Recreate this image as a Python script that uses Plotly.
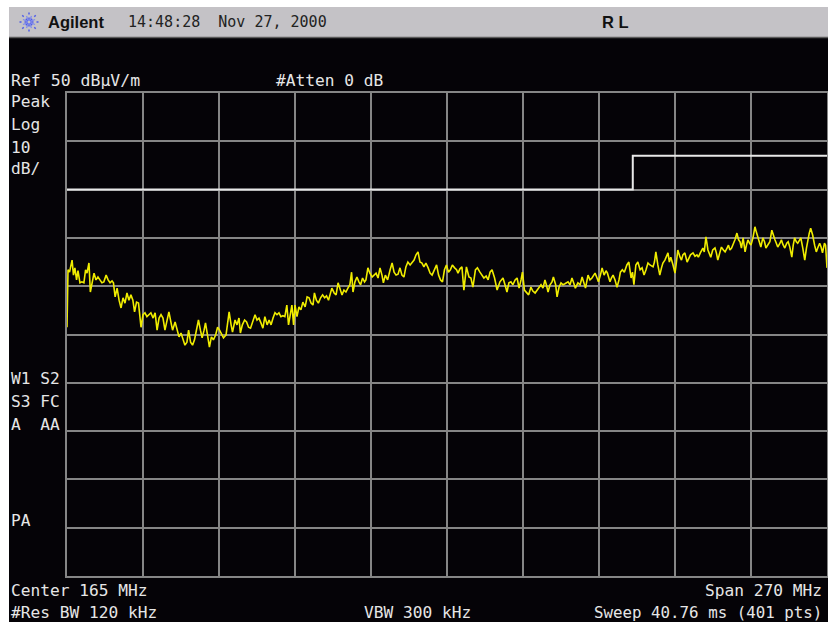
import plotly.graph_objects as go
import math

W, H = 828, 624

# ---- data ----
freq_mhz = [30.0, 30.36, 30.9, 31.2, 31.8, 32.3, 32.8, 33.4, 33.9, 34.6, 35.3, 36.0, 36.6, 37.1, 37.8, 38.3, 38.9, 39.6, 40.3, 41.0,
            41.7, 42.4, 43.1, 43.9, 44.6, 45.3, 46.0, 46.5, 47.1, 47.8, 48.5, 49.2, 49.9, 50.6, 51.3, 52.0, 52.7, 53.4, 54.0, 54.7,
            55.4, 56.3, 57.0, 57.7, 58.4, 59.1, 59.8, 60.6, 61.3, 62.0, 62.7, 63.4, 64.1, 64.8, 65.5, 66.2, 66.9, 67.5, 68.4, 69.1,
            69.8, 70.5, 71.2, 71.9, 72.6, 73.2, 73.9, 74.6, 75.3, 76.0, 76.7, 77.4, 78.0, 78.7, 79.2, 79.9, 80.6, 81.3, 82.0, 82.8,
            83.5, 84.2, 84.9, 85.6, 86.5, 87.6, 88.3, 88.8, 89.7, 90.4, 91.1, 91.6, 92.3, 93.1, 93.8, 94.5, 95.2, 95.9, 96.8, 97.5,
            98.2, 98.9, 99.6, 100.3, 101.1, 101.8, 102.5, 103.2, 103.9, 104.6, 105.3, 106.0, 106.7, 107.4, 108.1, 108.7, 109.4, 109.9, 110.5, 111.0,
            111.7, 112.4, 113.1, 113.8, 114.6, 115.3, 116.0, 116.7, 117.4, 117.9, 118.6, 119.3, 120.1, 120.8, 121.5, 122.2, 122.9, 123.6, 124.1, 124.9,
            125.6, 126.3, 127.0, 127.7, 128.4, 129.1, 129.8, 130.5, 131.1, 131.6, 132.3, 133.0, 133.7, 134.3, 135.0, 135.7, 136.2, 136.9, 137.6, 138.4,
            139.1, 139.8, 140.5, 141.2, 141.9, 142.4, 143.1, 143.9, 144.8, 145.5, 146.2, 146.9, 147.6, 148.3, 149.0, 149.7, 150.4, 151.1, 151.9, 152.6,
            153.3, 154.0, 154.7, 155.4, 156.1, 156.8, 157.5, 158.3, 159.0, 159.7, 160.4, 161.3, 162.0, 162.7, 163.4, 164.1, 164.8, 165.5, 166.2, 166.9,
            167.7, 168.4, 168.9, 169.6, 170.3, 171.0, 171.9, 172.8, 173.5, 174.2, 175.1, 175.8, 176.7, 177.4, 178.1, 178.9, 179.6, 180.3, 181.0, 181.9,
            182.8, 183.8, 184.9, 185.6, 186.3, 187.0, 187.7, 188.4, 189.2, 189.9, 190.6, 191.3, 191.8, 192.5, 193.3, 194.0, 194.8, 195.5, 196.3, 197.0,
            197.7, 198.4, 199.1, 199.8, 200.3, 200.9, 201.6, 202.3, 202.8, 203.6, 204.1, 204.8, 205.5, 206.2, 206.9, 208.0, 208.7, 209.4, 210.1, 210.6,
            211.5, 212.3, 213.0, 213.7, 214.2, 215.1, 215.8, 216.5, 217.6, 218.3, 218.8, 219.5, 220.1, 220.8, 221.5, 222.0, 222.9, 223.4, 224.0, 224.7,
            225.4, 226.1, 226.6, 227.3, 228.0, 228.9, 229.6, 230.4, 230.9, 231.4, 232.1, 232.8, 233.6, 234.3, 235.0, 235.7, 236.4, 237.1, 238.2, 238.7,
            239.2, 239.9, 240.6, 241.2, 241.7, 242.4, 243.5, 244.0, 244.5, 245.3, 246.0, 246.5, 247.0, 247.8, 248.3, 248.8, 249.5, 250.3, 250.8, 251.5,
            252.4, 253.1, 253.8, 254.3, 255.0, 255.9, 256.4, 257.0, 257.7, 258.2, 258.7, 259.4, 260.2, 260.7, 261.2, 262.0, 262.5, 263.2, 263.8, 264.5,
            265.0, 265.5, 266.1, 266.8, 267.3, 268.0, 268.6, 269.1, 269.6, 270.2, 270.9, 271.4, 271.9, 272.5, 273.0, 273.7, 274.4, 274.9, 275.5, 276.0,
            276.5, 277.2, 277.8, 278.3, 279.0, 279.7, 280.4, 280.9, 281.5, 282.0, 282.5, 283.3, 283.8, 284.3, 285.0, 285.7, 286.2, 286.8, 287.5, 288.0,
            288.5, 289.1, 289.6, 290.3, 290.7, 291.4, 292.1, 292.7, 293.2, 293.7, 294.2, 294.9, 295.6, 296.2, 296.7, 297.4, 297.9, 298.4, 299.1, 299.5,
            300.0]

level_dbuv_m = [1.5, 13.4, 12.9, 13.8, 15.4, 12.3, 13.8, 11.3, 13.2, 10.7, 10.9, 10.7, 13.4, 12.7, 14.8, 8.8, 10.3, 12.7, 11.3, 11.9,
                11.3, 10.7, 10.9, 12.3, 11.3, 10.7, 11.1, 10.7, 7.8, 9.6, 7.1, 5.5, 7.6, 6.5, 8.6, 7.1, 8.2, 7.1, 4.7, 6.7,
                6.5, 1.5, 4.1, 4.5, 3.7, 4.1, 4.5, 3.4, 4.5, 0.9, 3.4, 4.1, 3.4, 0.9, 3.0, 4.7, 2.6, 0.9, 2.6, 1.3,
                -0.5, 0.3, -1.1, -2.2, -1.6, 0.9, -1.6, -2.2, -1.1, 0.9, 3.0, 0.9, -0.7, 0.9, 2.4, -0.1, -2.6, -0.5, -1.1, -0.1,
                1.5, 0.9, -0.1, -0.7, -0.1, 4.7, 2.0, 0.5, 3.0, 2.0, 3.4, 0.3, 2.0, 3.0, 2.6, 1.5, 1.3, 2.6, 4.1, 3.0,
                3.4, 2.4, 1.3, 3.7, 2.0, 3.0, 2.0, 3.4, 4.5, 4.1, 4.5, 3.7, 3.9, 3.7, 6.1, 2.0, 4.7, 6.1, 2.0, 6.1,
                3.7, 5.7, 5.1, 6.7, 5.7, 7.8, 7.6, 6.5, 6.1, 8.6, 7.1, 6.5, 7.6, 8.2, 7.6, 8.0, 7.1, 8.6, 9.6, 8.6,
                8.2, 10.7, 9.2, 8.2, 9.2, 8.8, 9.6, 10.3, 12.9, 8.8, 10.9, 11.9, 10.9, 10.3, 11.7, 10.9, 11.3, 13.8, 12.7, 11.9,
                12.3, 12.7, 11.7, 13.8, 12.3, 10.7, 12.3, 11.3, 13.4, 14.8, 12.9, 12.3, 12.5, 13.8, 12.3, 11.9, 14.0, 15.0, 14.4, 15.0,
                15.4, 16.5, 17.1, 15.0, 14.8, 14.0, 14.8, 13.8, 12.7, 12.3, 13.4, 14.4, 12.3, 11.3, 10.9, 13.4, 14.4, 12.9, 13.4, 14.4,
                13.8, 13.4, 12.7, 13.6, 14.0, 9.2, 14.0, 11.9, 11.7, 9.8, 13.4, 13.8, 12.9, 12.3, 11.7, 12.1, 11.3, 12.9, 13.4, 11.7,
                9.2, 10.9, 11.7, 10.3, 8.8, 10.7, 10.9, 10.3, 11.3, 11.7, 9.6, 11.3, 12.9, 9.2, 8.6, 8.2, 9.8, 9.0, 8.6, 9.2,
                9.6, 10.3, 9.6, 11.3, 10.3, 8.8, 10.3, 10.9, 11.9, 10.3, 7.8, 9.8, 10.7, 10.3, 10.5, 10.9, 10.3, 11.7, 10.5, 9.6,
                10.7, 10.3, 11.9, 10.7, 9.6, 12.3, 11.3, 11.7, 12.7, 11.7, 10.9, 12.3, 13.8, 12.3, 13.2, 12.7, 10.9, 11.7, 12.3, 11.3,
                9.8, 11.3, 12.9, 13.4, 12.9, 14.4, 15.0, 11.7, 12.9, 10.3, 14.4, 15.0, 13.4, 13.8, 12.3, 13.4, 14.8, 14.4, 14.0, 15.0,
                17.1, 14.4, 12.3, 13.8, 14.8, 15.4, 16.9, 15.0, 16.0, 14.4, 12.7, 15.0, 17.5, 16.0, 15.4, 16.5, 16.9, 15.0, 15.8, 16.5,
                16.9, 16.2, 16.5, 16.0, 16.9, 17.9, 17.1, 20.2, 17.5, 16.5, 16.0, 17.5, 17.9, 16.9, 15.4, 17.1, 18.1, 17.5, 17.1, 17.9,
                18.5, 17.5, 17.9, 18.9, 19.6, 21.0, 19.6, 19.2, 17.9, 20.0, 17.1, 18.5, 19.6, 18.9, 18.5, 20.0, 22.3, 21.2, 20.0, 19.2,
                18.1, 20.0, 19.2, 17.9, 18.5, 19.2, 21.6, 20.4, 19.6, 18.9, 18.1, 18.9, 19.6, 18.7, 17.9, 18.9, 19.2, 18.1, 16.0, 18.5,
                20.0, 19.2, 18.9, 19.6, 20.0, 17.9, 15.4, 17.9, 19.6, 21.0, 22.0, 20.6, 18.5, 17.1, 17.9, 18.9, 18.1, 16.9, 18.9, 18.5,
                13.8]

limit_freq_mhz = [30, 231, 231, 300]
limit_dbuv_m = [30, 30, 37, 37]

ref_level = 50
db_per_div = 10
center_mhz = 165
span_mhz = 270

# ---- figure ----
def px(x):
    return x / W

def py(y):
    return 1 - y / H

TXT = "#e6e6e6"
MONO = "DejaVu Sans Mono, Liberation Mono, monospace"
GRID = "#858585"

fig = go.Figure()
fig.add_trace(go.Scatter(x=limit_freq_mhz, y=limit_dbuv_m, mode="lines",
                         line=dict(color="#e8e8e8", width=2), hoverinfo="skip"))
fig.add_trace(go.Scatter(x=freq_mhz, y=level_dbuv_m, mode="lines",
                         line=dict(color="#f0ec00", width=1.6), hoverinfo="skip"))

x0 = center_mhz - span_mhz / 2
x1 = center_mhz + span_mhz / 2
fig.update_xaxes(domain=[px(67), px(827)], range=[x0, x1], tick0=x0, dtick=span_mhz / 10,
                 showgrid=True, gridcolor=GRID, gridwidth=2, showticklabels=False, ticks="",
                 zeroline=False, showline=True, linecolor=GRID, linewidth=2, mirror=True, fixedrange=True)
fig.update_yaxes(domain=[py(576), py(93)], range=[ref_level - 10 * db_per_div, ref_level],
                 tick0=ref_level, dtick=db_per_div,
                 showgrid=True, gridcolor=GRID, gridwidth=2, showticklabels=False, ticks="",
                 zeroline=False, showline=True, linecolor=GRID, linewidth=2, mirror=True, fixedrange=True)

shapes = [
    dict(type="rect", xref="paper", yref="paper", x0=px(9), x1=px(828), y0=py(37), y1=py(7),
         fillcolor="#c4c2c6", line=dict(width=0), layer="below"),
    dict(type="rect", xref="paper", yref="paper", x0=px(9), x1=px(828), y0=py(622), y1=py(37),
         fillcolor="#050307", line=dict(width=0), layer="below"),
    dict(type="line", xref="paper", yref="paper", x0=px(9), x1=px(828), y0=py(37.5), y1=py(37.5),
         line=dict(color="#5a5a5a", width=1.5)),
]
# Agilent spark logo
cx, cy, r = 29, 22, 9.5
for k in range(8):
    a = math.pi * k / 4
    shapes.append(dict(type="line", xref="paper", yref="paper",
                       x0=px(cx + 1.5 * math.cos(a)), y0=py(cy + 1.5 * math.sin(a)),
                       x1=px(cx + r * math.cos(a)), y1=py(cy + r * math.sin(a)),
                       line=dict(color="#4f5ce8", width=1.5, dash="dot")))
for k in range(8):
    a = math.pi * k / 4 + math.pi / 8
    shapes.append(dict(type="line", xref="paper", yref="paper",
                       x0=px(cx + 1.5 * math.cos(a)), y0=py(cy + 1.5 * math.sin(a)),
                       x1=px(cx + 6.5 * math.cos(a)), y1=py(cy + 6.5 * math.sin(a)),
                       line=dict(color="#7f8aee", width=1.2)))

ann = []
def txt(x, y, s, anchor="left", color=TXT, size=16, family=MONO):
    ann.append(dict(x=px(x), y=py(y), xref="paper", yref="paper", text=s, showarrow=False,
                    xanchor=anchor, yanchor="middle", font=dict(family=family, size=size, color=color)))

txt(46, 22, "<b>Agilent</b>", color="#111111", size=16.5, family="Liberation Sans, Arial, sans-serif")
txt(126, 22, "14:48:28  Nov 27, 2000", color="#222222", size=15)
txt(615, 22, "<b>R L</b>", anchor="center", color="#111111", size=16.5, family="Liberation Sans, Arial, sans-serif")

FS = 16.2
txt(9, 80, f"Ref {ref_level} dBµV/m", size=16.5)
txt(274, 80, "#Atten 0 dB", size=FS)
txt(9, 102, "Peak", size=FS)
txt(9, 125, "Log", size=FS)
txt(9, 147, f"{db_per_div}", size=FS)
txt(9, 169, "dB/", size=FS)
txt(9, 378, "W1 S2", size=FS)
txt(9, 401, "S3 FC", size=FS)
txt(9, 424, "A  AA", size=FS)
txt(9, 520, "PA", size=FS)
txt(9, 590, f"Center {center_mhz} MHz", size=FS)
txt(9, 612, "#Res BW 120 kHz", size=FS)
txt(824, 590, f"Span {span_mhz} MHz", anchor="right", size=FS)
txt(362, 612, "VBW 300 kHz", size=FS)
txt(824, 612, "Sweep 40.76 ms (401 pts)", anchor="right", size=15.8)

fig.update_layout(width=W, height=H, margin=dict(l=0, r=0, t=0, b=0),
                  paper_bgcolor="#ffffff", plot_bgcolor="#050307",
                  showlegend=False, shapes=shapes, annotations=ann)

fig.write_html("out.html", config={"displayModeBar": False},
               post_script="document.body.style.margin='0';document.body.style.padding='0';")
